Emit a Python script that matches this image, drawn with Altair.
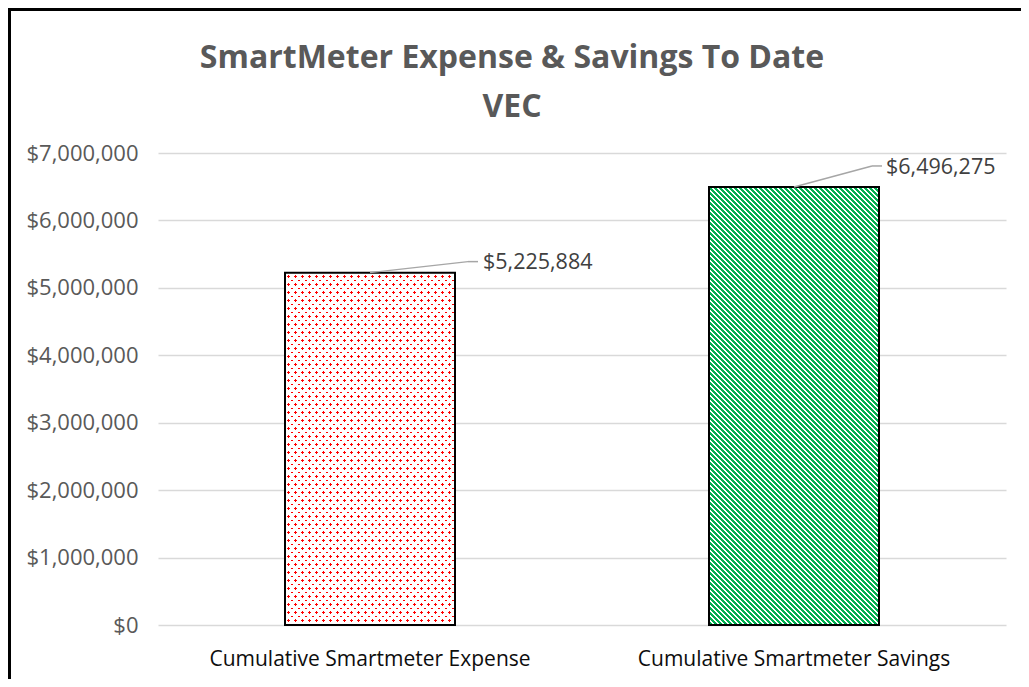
import math
import altair as alt
import pandas as pd

# ---------------- data ----------------
categories = ["Cumulative Smartmeter Expense", "Cumulative Smartmeter Savings"]
values = [5225884, 6496275]
value_labels = ["$5,225,884", "$6,496,275"]
title_lines = ["SmartMeter Expense & Savings To Date", "VEC"]
y_ticks = [0, 1000000, 2000000, 3000000, 4000000, 5000000, 6000000, 7000000]

# ---------------- layout / style ----------------
FONT = "Open Sans"
W, H = 848, 472
YMAX = 7000000
BAR_W = 170
PAD = {"left": 150, "top": 145, "right": 15, "bottom": 54}

df = pd.DataFrame({"cat": categories, "value": values, "label": value_labels})


def stripe_gradient(w, h, a_px, b_px, hw, on, off):
    """Linear gradient (bbox units) that draws parallel stripes at integer s,
    s = a_px*px + b_px*py, each of half width hw (in s units)."""
    a, b = a_px * w, b_px * h
    corners = {(u, v): a * u + b * v for u in (0, 1) for v in (0, 1)}
    (u0, v0) = min(corners, key=corners.get)
    smin = corners[(u0, v0)]
    smax = max(corners.values())
    K = smax - smin
    c = K / (a * a + b * b)
    stops = []
    for n in range(math.floor(smin) - 1, math.ceil(smax) + 2):
        lo = (n - hw - smin) / K
        hi = (n + hw - smin) / K
        if hi <= 0 or lo >= 1:
            continue
        lo, hi = max(lo, 0.0), min(hi, 1.0)
        stops += [
            {"offset": round(lo, 5), "color": off},
            {"offset": round(lo, 5), "color": on},
            {"offset": round(hi, 5), "color": on},
            {"offset": round(hi, 5), "color": off},
        ]
    return {
        "gradient": "linear",
        "x1": u0, "y1": v0,
        "x2": round(u0 + c * a, 6), "y2": round(v0 + c * b, 6),
        "stops": stops,
    }


h_red = values[0] / YMAX * H
h_green = values[1] / YMAX * H

red_a = stripe_gradient(BAR_W, h_red, 4 / 28, -3.5 / 28, 0.18, "#FF0000", "#FFFFFF")
red_b = stripe_gradient(BAR_W, h_red, 4 / 28, 3.5 / 28, 0.18, "rgba(255,255,255,0)", "#FFFFFF")
green_g = stripe_gradient(BAR_W, h_green, 1 / 5, -1 / 5, 0.3, "#00B050", "#FFFFFF")

x_enc = alt.X(
    "cat:N",
    sort=categories,
    scale=alt.Scale(domain=categories, paddingInner=0.5, paddingOuter=0.25),
    axis=alt.Axis(
        title=None, labelAngle=0, labelFont=FONT, labelFontSize=21,
        labelColor="#0D0D0D", labelPadding=23, domain=False, ticks=False,
        grid=False, labelLimit=500,
    ),
)
y_enc = alt.Y(
    "value:Q",
    scale=alt.Scale(domain=[0, YMAX], nice=False),
    axis=alt.Axis(
        title=None, values=y_ticks, format="$,.0f", labelFont=FONT,
        labelFontSize=22, labelColor="#595959", labelPadding=20,
        domain=False, ticks=False, gridColor="#D9D9D9", gridWidth=1.3,
    ),
)

base = alt.Chart(df)
sel0 = alt.datum.cat == categories[0]
sel1 = alt.datum.cat == categories[1]

bar_red_a = base.transform_filter(sel0).mark_bar(width=BAR_W, fill=red_a).encode(x=x_enc, y=y_enc)
bar_red_b = base.transform_filter(sel0).mark_bar(width=BAR_W, fill=red_b).encode(x=x_enc, y=y_enc)
bar_green = base.transform_filter(sel1).mark_bar(width=BAR_W, fill=green_g).encode(x=x_enc, y=y_enc)
bar_outline = base.mark_bar(
    width=BAR_W, fill="transparent", stroke="#000000", strokeWidth=2
).encode(x=x_enc, y=y_enc)

LEADER = "#A6A6A6"


def leader(sel, dx1, dy1, dx2, tdx, tdy):
    seg1 = base.transform_filter(sel).mark_rule(
        color=LEADER, strokeWidth=1.5, x2Offset=dx1, y2Offset=dy1
    ).encode(x=x_enc, y=y_enc, x2=alt.X2("cat"), y2=alt.Y2("value"))
    seg2 = base.transform_filter(sel).mark_rule(
        color=LEADER, strokeWidth=1.5, xOffset=dx1, yOffset=dy1,
        x2Offset=dx2, y2Offset=dy1
    ).encode(x=x_enc, y=y_enc, x2=alt.X2("cat"), y2=alt.Y2("value"))
    txt = base.transform_filter(sel).mark_text(
        align="left", baseline="middle", dx=tdx, dy=tdy, font=FONT,
        fontSize=21.5, color="#404040"
    ).encode(x=x_enc, y=y_enc, text="label:N")
    return [seg1, seg2, txt]


lead_red = leader(sel0, 98, -11, 108, 113, -10)
lead_green = leader(sel1, 78, -21, 88, 92, -19)

title1 = alt.Chart(pd.DataFrame({"t": [title_lines[0]]})).mark_text(
    font=FONT, fontSize=32, fontWeight="bold", color="#595959",
    align="center", baseline="alphabetic"
).encode(x=alt.value(354), y=alt.value(-85), text="t:N")
title2 = alt.Chart(pd.DataFrame({"t": [title_lines[1]]})).mark_text(
    font=FONT, fontSize=32, fontWeight="bold", color="#595959",
    align="center", baseline="alphabetic"
).encode(x=alt.value(354), y=alt.value(-36), text="t:N")

one = pd.DataFrame({"k": [0]})
border_v = alt.Chart(one).mark_rule(color="#000000", strokeWidth=3).encode(
    x=alt.value(-148.5), y=alt.value(-145), y2=alt.value(H + PAD["bottom"])
)
border_h = alt.Chart(one).mark_rule(color="#000000", strokeWidth=3).encode(
    x=alt.value(-150), x2=alt.value(W + PAD["right"]), y=alt.value(-143.5)
)

chart = alt.layer(
    bar_red_a, bar_red_b, bar_green, bar_outline,
    *lead_red, *lead_green,
    title1, title2, border_v, border_h,
).properties(
    width=W, height=H,
    autosize=alt.AutoSizeParams(type="none"),
    padding=PAD,
    background="#FFFFFF",
).configure_view(stroke=None)

chart.save("out.html", embed_options={"renderer": "svg", "actions": False})
